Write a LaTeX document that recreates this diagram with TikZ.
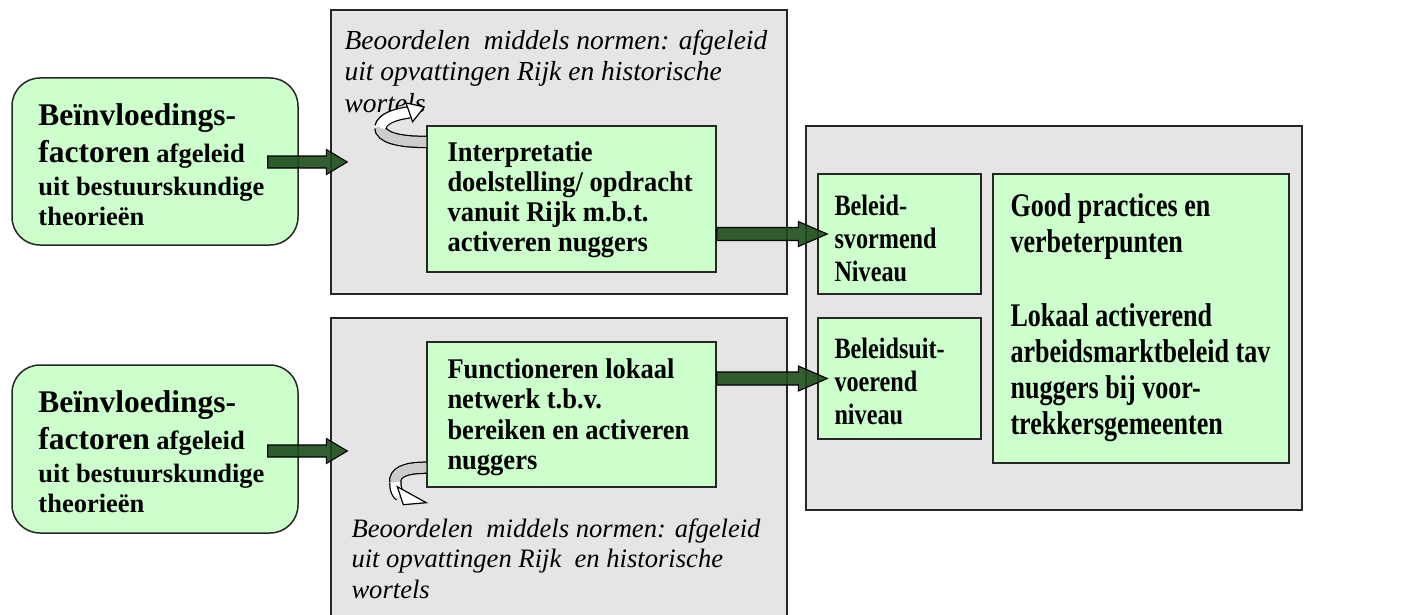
\documentclass[tikz,border=0pt]{standalone}
\usepackage{fontspec}
\setmainfont{Liberation Serif}
\newfontfamily\condfont[FakeStretch=0.79]{Liberation Serif}
\newfontfamily\beleidfont[FakeStretch=0.82]{Liberation Serif}
\newfontfamily\midfont[FakeStretch=0.93]{Liberation Serif}
\usetikzlibrary{calc}
\definecolor{boxgreen}{RGB}{204,255,204}
\definecolor{boxgrey}{RGB}{229,229,229}
\definecolor{arrowgreen}{RGB}{28,76,28}
\definecolor{curlgrey}{RGB}{204,204,204}
\newcommand\blockarrow[5]{%
  \draw[barrow] ($(#1)+(0,-#3)$) -- ($(#2)+(-#5,-#3)$) -- ($(#2)+(-#5,-#4)$) -- (#2)
    -- ($(#2)+(-#5,#4)$) -- ($(#2)+(-#5,#3)$) -- ($(#1)+(0,#3)$) -- cycle;}
\begin{document}
\begin{tikzpicture}[x=1pt,y=-1pt,
  greybox/.style={draw=black!85, fill=boxgrey, line width=1.4pt, inner sep=0pt},
  greenbox/.style={draw=black!85, fill=boxgreen, line width=1.4pt, inner sep=0pt},
  roundbox/.style={draw=black!85, fill=boxgreen, line width=1.5pt, inner sep=0pt, rounded corners=28pt},
  lbl/.style={inner sep=0pt, align=left, anchor=west},
  itlbl/.style={inner sep=0pt, align=left, anchor=north west},
  barrow/.style={draw=black, line width=1.1pt, fill=arrowgreen, fill opacity=0.9, line join=miter},
  curlout/.style={draw=black, line width=12.5pt},
  curlbackfill/.style={draw=curlgrey, line width=10pt},
  curlfrontfill/.style={draw=white, line width=10pt},
  curlhead/.style={draw=black, fill=white, line width=1.2pt, line join=miter}]
\clip (0,0) rectangle (1418,615);
\useasboundingbox (0,0) rectangle (1418,615);

% grey frames
\node[greybox, minimum width=456pt, minimum height=284pt] (g1) at (559,152) {};
\node[greybox, minimum width=456pt, minimum height=310pt] (g2) at (559,473) {};
\node[greybox, minimum width=496pt, minimum height=384pt] (rg) at (1054,318) {};

% left rounded boxes
\node[roundbox, minimum width=286pt, minimum height=167pt] (lb1) at (155,161.5) {};
\node[roundbox, minimum width=286pt, minimum height=168pt] (lb2) at (155,449) {};

% green boxes
\node[greenbox, minimum width=289pt, minimum height=146pt] (ib) at (571.5,199) {};
\node[greenbox, minimum width=289pt, minimum height=145pt] (fb) at (571.5,414.5) {};
\node[greenbox, minimum width=163pt, minimum height=120pt] (bv) at (899.5,234) {};
\node[greenbox, minimum width=163pt, minimum height=121pt] (bu) at (899.5,378.5) {};
\node[greenbox, minimum width=296pt, minimum height=289pt] (gp) at (1141,318.5) {};

% texts
\node[lbl, font=\bfseries\fontsize{26.5}{30}\selectfont] (lb1t) at ($(lb1.west)+(27,3)$)
  {{\fontsize{31.5}{30}\selectfont Beïnvloedings-}\\[7pt]{\fontsize{31.5}{30}\selectfont factoren} afgeleid\\[3pt]uit bestuurskundige\\theorieën};
\node[lbl, font=\bfseries\fontsize{26.5}{30}\selectfont] (lb2t) at ($(lb2.west)+(27,3)$)
  {{\fontsize{31.5}{30}\selectfont Beïnvloedings-}\\[7pt]{\fontsize{31.5}{30}\selectfont factoren} afgeleid\\[3pt]uit bestuurskundige\\theorieën};

\node[lbl, font=\midfont\bfseries\fontsize{28.5}{30}\selectfont] (ibt) at ($(ib.west)+(21,1)$)
  {Interpretatie\\doelstelling/ opdracht\\vanuit Rijk m.b.t.\\activeren nuggers};
\node[lbl, font=\midfont\bfseries\fontsize{28.5}{30.5}\selectfont] (fbt) at ($(fb.west)+(21,3)$)
  {Functioneren lokaal\\netwerk t.b.v.\\bereiken en activeren\\nuggers};

\node[lbl, font=\beleidfont\bfseries\fontsize{29.5}{33}\selectfont] (bvt) at ($(bv.west)+(17,4)$)
  {Beleid-\\svormend\\Niveau};
\node[lbl, font=\beleidfont\bfseries\fontsize{29.5}{33}\selectfont] (but) at ($(bu.west)+(17,3)$)
  {Beleidsuit-\\voerend\\niveau};
\node[lbl, font=\condfont\bfseries\fontsize{33}{36}\selectfont] (gpt) at ($(gp.west)+(18,-1)$)
  {Good practices en\\verbeterpunten\\[38pt]Lokaal activerend\\arbeidsmarktbeleid tav\\nuggers bij voor-\\trekkersgemeenten};

\node[itlbl, font=\itshape\fontsize{27.5}{31.5}\selectfont] (it1) at ($(g1.north west)+(14,20.2)$)
  {Beoordelen\ \ middels normen: afgeleid\\uit opvattingen Rijk en historische\\wortels};
\node[itlbl, font=\itshape\fontsize{26.6}{30.5}\selectfont] (it2) at ($(g2.north west)+(21,200.8)$)
  {Beoordelen\ \ middels normen: afgeleid\\uit opvattingen Rijk\ \ en historische\\wortels};

% block arrows
\coordinate (a1s) at ($(lb1.east)+(-31,0.5)$);
\coordinate (a1e) at ($(g1.west |- lb1.east)+(17,0.5)$);
\coordinate (a2s) at ($(lb2.east)+(-31,2)$);
\coordinate (a2e) at ($(g2.west |- lb2.east)+(17,2)$);
\coordinate (a3s) at (ib.east |- bv.west);
\coordinate (a3e) at ($(bv.west)+(10,0)$);
\coordinate (a4s) at (fb.east |- bu.west);
\coordinate (a4e) at ($(bu.west)+(10,0)$);
\blockarrow{a1s}{a1e}{6}{12.5}{21}
\blockarrow{a2s}{a2e}{6}{12.5}{21}
\blockarrow{a3s}{a3e}{6.5}{12.5}{29}
\blockarrow{a4s}{a4e}{6.5}{12.5}{29}

% curved arrow (top)
\coordinate (c1) at (ib.north west);
\draw[curlout] ($(c1)+(0,16.5)$) .. controls ($(c1)+(-27,17)$) and ($(c1)+(-46,12)$) .. ($(c1)+(-46,2)$);
\draw[curlbackfill] ($(c1)+(0,16.5)$) .. controls ($(c1)+(-27,17)$) and ($(c1)+(-46,12)$) .. ($(c1)+(-46,2)$);
\draw[curlout] ($(c1)+(-46,2)$) .. controls ($(c1)+(-44,-7)$) and ($(c1)+(-31,-11)$) .. ($(c1)+(-17,-13)$);
\draw[curlfrontfill] ($(c1)+(-46,2.5)$) .. controls ($(c1)+(-44,-7)$) and ($(c1)+(-31,-11)$) .. ($(c1)+(-17,-13)$);
\draw[curlhead] ($(c1)+(-20.3,-22.4)$) -- ($(c1)+(-2,-18.3)$) -- ($(c1)+(-13.7,-3.6)$) -- cycle;

% curved arrow (bottom)
\coordinate (c2) at (fb.south west);
\draw[curlout] ($(c2)+(0,-20)$) .. controls ($(c2)+(-22,-20)$) and ($(c2)+(-32,-15)$) .. ($(c2)+(-31,-5)$);
\draw[curlbackfill] ($(c2)+(0,-20)$) .. controls ($(c2)+(-22,-20)$) and ($(c2)+(-32,-15)$) .. ($(c2)+(-31,-5)$);
\draw[curlout] ($(c2)+(-31,-5)$) .. controls ($(c2)+(-31,2)$) and ($(c2)+(-29,6)$) .. ($(c2)+(-26,8)$);
\draw[curlfrontfill] ($(c2)+(-31,-5.5)$) .. controls ($(c2)+(-31,2)$) and ($(c2)+(-29,6)$) .. ($(c2)+(-26,8)$);
\draw[curlhead] ($(c2)+(-29,-1)$) -- ($(c2)+(0,15)$) -- ($(c2)+(-23,17)$) -- cycle;
\end{tikzpicture}
\end{document}
